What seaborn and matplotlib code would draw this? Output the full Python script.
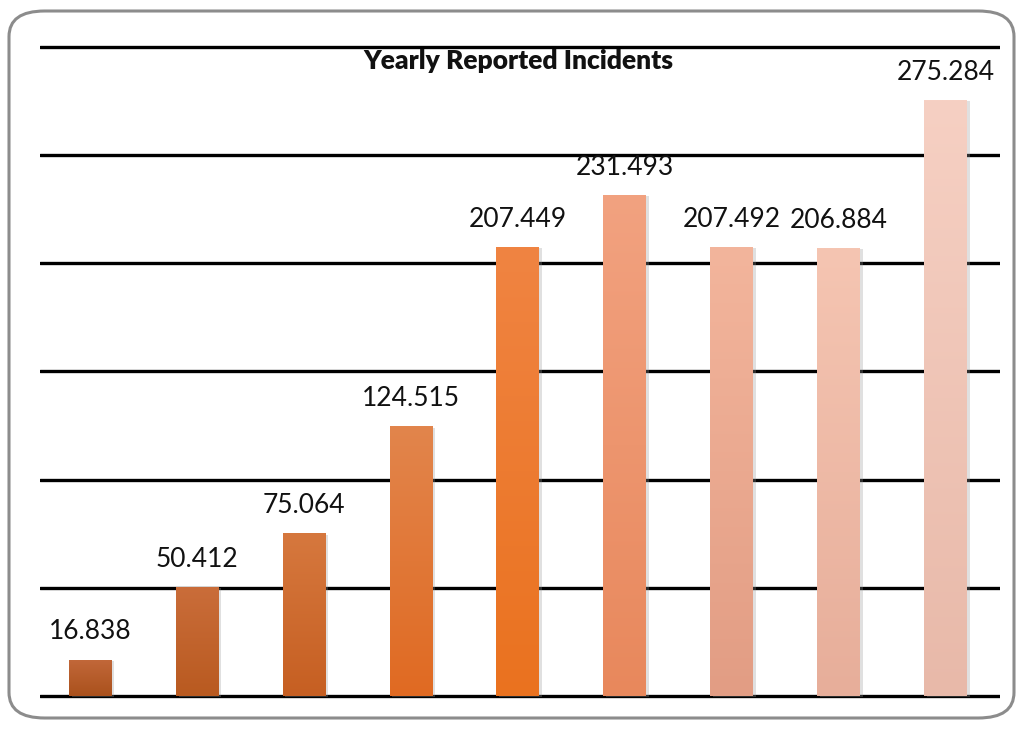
import numpy as np
import pandas as pd
import seaborn as sns
import matplotlib
matplotlib.use("Agg")
import matplotlib.pyplot as plt
from matplotlib.patches import FancyBboxPatch
from matplotlib import patheffects as pe
from matplotlib.colors import to_rgb

# ---- data ----
categories = ["1", "2", "3", "4", "5", "6", "7", "8", "9"]
values = [16.838, 50.412, 75.064, 124.515, 207.449, 231.493, 207.492, 206.884, 275.284]
labels = ["16.838", "50.412", "75.064", "124.515", "207.449", "231.493", "207.492", "206.884", "275.284"]
title = "Yearly Reported Incidents"
top_colors = ["#c2683a", "#ca6d3a", "#d6783e", "#e2854c", "#f08442", "#f2a280", "#f3b59c", "#f5c5b2", "#f6d0c3"]
bottom_colors = ["#aa511c", "#b95a20", "#c65f22", "#e06a22", "#ea721f", "#e8885c", "#e29d84", "#e7ae9a", "#e8b9a9"]

sns.set_theme(style="white")
plt.rcParams["font.family"] = ["Lato", "DejaVu Sans"]

W, H = 1020, 730
fig = plt.figure(figsize=(W / 100, H / 100), dpi=100)

# axes placement (pixels)
ppu = 2.165
ymin, ymax = -3, 303
base_px = 696
bottom_px = base_px - ymin * ppu  # pixel y of ymin
top_px = base_px - ymax * ppu
left_px, right_px = 40, 1000
ax = fig.add_axes([left_px / W, (H - bottom_px) / H, (right_px - left_px) / W, (bottom_px - top_px) / H])

# frame
frame = FancyBboxPatch((9 / W, (H - 718) / H), (1014 - 9) / W, (718 - 11) / H,
                       boxstyle="round,pad=0,rounding_size=0.035", transform=fig.transFigure,
                       facecolor="none", edgecolor="#8c8c8c", linewidth=2.2, zorder=0)
fig.patches.append(frame)

df = pd.DataFrame({"cat": categories, "val": values})
mid_colors = [tuple((np.array(to_rgb(t)) + np.array(to_rgb(b))) / 2) for t, b in zip(top_colors, bottom_colors)]
sns.barplot(data=df, x="cat", y="val", hue="cat", palette=mid_colors, legend=False,
            width=0.4, ax=ax, zorder=3, linewidth=0)

ax.set_xlim(-0.47, 8.51)
ax.set_ylim(ymin, ymax)
for y in range(0, 301, 50):
    ax.axhline(y, color="black", lw=2.4, zorder=1)

# gradient fill per bar
for i, p in enumerate(ax.patches):
    x0, y0 = p.get_x(), p.get_y()
    w, h = p.get_width(), p.get_height()
    p.set_path_effects([pe.SimplePatchShadow(offset=(2.0, -1.0), shadow_rgbFace="#999999", alpha=0.3), pe.Normal()])
    c_top = np.array(to_rgb(top_colors[i]))
    c_bot = np.array(to_rgb(bottom_colors[i]))
    t = np.linspace(0, 1, 256)[:, None]
    grad = c_top[None, :] * (1 - t) + c_bot[None, :] * t
    img = np.repeat(grad[:, None, :], 2, axis=1)
    im = ax.imshow(img, extent=(x0, x0 + w, y0, y0 + h), aspect="auto", zorder=4, interpolation="bilinear")
    im.set_clip_path(p)
    ax.annotate(labels[i], (x0 + w / 2, y0 + h), xytext=(0, 11), textcoords="offset points",
                ha="center", va="bottom", fontsize=19, color="#111111", zorder=5)

ax.set_aspect("auto")
ax.set_xlim(-0.47, 8.51)
ax.set_ylim(ymin, ymax)
ax.set_xticks([])
ax.set_yticks([])
ax.set_xlabel("")
ax.set_ylabel("")
for s in ax.spines.values():
    s.set_visible(False)
ax.patch.set_alpha(0)

fig.text(518 / W, 1 - 61 / H, title, ha="center", va="center", fontsize=19, fontweight="heavy",
         color="#111111", zorder=6)

fig.savefig("out.png", dpi=100, facecolor="white")
